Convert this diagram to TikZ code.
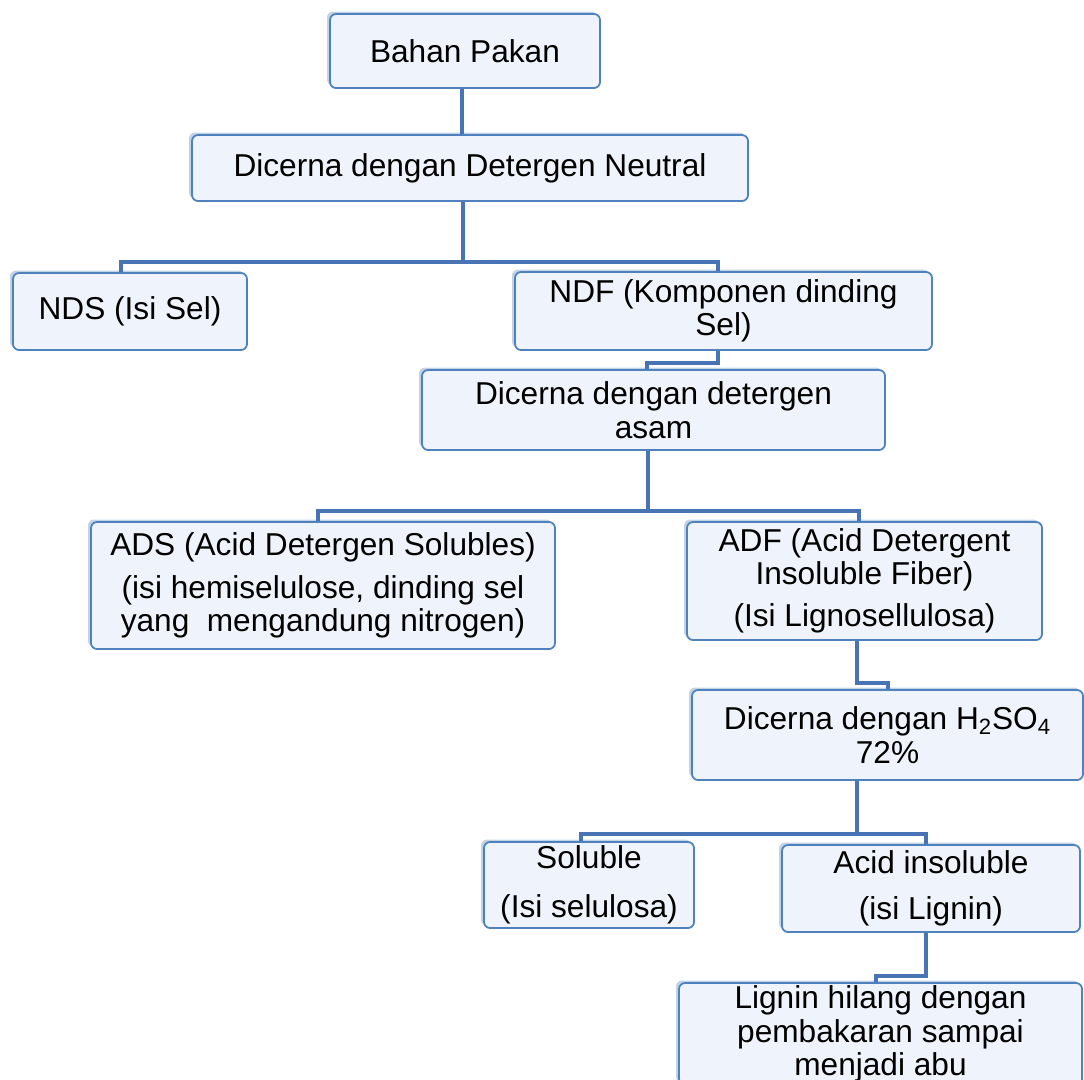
\documentclass[tikz,border=0pt]{standalone}
\usepackage{fontspec}
\setmainfont{Liberation Sans}
\usetikzlibrary{shadows}

\definecolor{biruGaris}{RGB}{72,116,182}
\definecolor{biruTepi}{RGB}{79,129,189}
\definecolor{isiKotak}{RGB}{239,243,251}

\begin{document}
\begin{tikzpicture}[
		kotak/.style={draw=biruTepi, line width=1pt, rounded corners=0.12cm, fill=isiKotak, align=center, inner sep=0pt,
			font=\fontsize{18}{19}\selectfont,
			drop shadow={shadow xshift=-0.06cm, shadow yshift=0.05cm, fill=biruTepi, opacity=0.35}},
		garis/.style={draw=biruGaris, line width=0.08cm}]
				\useasboundingbox (0,0) rectangle (21.68,-21.58);
				
				% Kotak bagan
				\node[kotak, minimum width=5.40cm, minimum height=1.48cm] (bahan) at (9.30,-1.02) {Bahan Pakan};
				\node[kotak, minimum width=11.12cm, minimum height=1.32cm] (netral) at (9.40,-3.36) {Dicerna dengan Detergen Neutral};
				\node[kotak, minimum width=4.68cm, minimum height=1.54cm] (nds) at (2.60,-6.23) {NDS (Isi Sel)};
				\node[kotak, minimum width=8.34cm, minimum height=1.56cm] (ndf) at (14.47,-6.22) {NDF (Komponen dinding\\Sel)};
				\node[kotak, minimum width=9.26cm, minimum height=1.60cm] (asam) at (13.07,-8.20) {Dicerna dengan detergen\\asam};
				\node[kotak, minimum width=9.28cm, minimum height=2.54cm] (ads) at (6.46,-11.71) {ADS (Acid Detergen Solubles)\\[5pt](isi hemiselulose, dinding sel\\yang~ mengandung nitrogen)};
				\node[kotak, minimum width=7.10cm, minimum height=2.36cm] (adf) at (17.29,-11.62) {ADF (Acid Detergent\\Insoluble Fiber)\\[5pt](Isi Lignosellulosa)};
				\node[kotak, minimum width=7.82cm, minimum height=1.80cm] (hso) at (17.75,-14.70) {Dicerna dengan H\textsubscript{2}SO\textsubscript{4}\\72\%};
				\node[kotak, minimum width=4.20cm, minimum height=1.72cm] (sol) at (11.78,-17.70) {Soluble\\[9pt](Isi selulosa)};
				\node[kotak, minimum width=5.96cm, minimum height=1.74cm] (acid) at (18.62,-17.77) {Acid insoluble\\[7pt](isi Lignin)};
				\node[kotak, minimum width=8.06cm, minimum height=2.04cm] (lignin) at (17.61,-20.68) {Lignin hilang dengan\\pembakaran sampai\\menjadi abu};
				
				% Titik cabang
				\coordinate (cab1) at (9.26,-5.24);
				\coordinate (cab2) at (12.96,-10.22);
				\coordinate (cab3) at (17.14,-16.68);
				
				% Garis penghubung
				\draw[garis] ([xshift=-0.06cm]bahan.south) -- ([xshift=-0.06cm]bahan.south |- netral.north);
				\draw[garis] (netral.south -| cab1) -- (cab1) -| ([xshift=-0.18cm]nds.north);
				\draw[garis] (cab1) -| ([xshift=-0.11cm]ndf.north);
				\draw[garis] ([xshift=-0.11cm]ndf.south) -- ++(0,-0.24) -| ([xshift=-0.13cm]asam.north);
				\draw[garis] (asam.south -| cab2) -- (cab2) -| ([xshift=-0.10cm]ads.north);
				\draw[garis] (cab2) -| ([xshift=-0.11cm]adf.north);
				\draw[garis] ([xshift=-0.15cm]adf.south) -- ++(0,-0.84) -| (hso.north);
				\draw[garis] (hso.south -| cab3) -- (cab3) -| ([xshift=-0.16cm]sol.north);
				\draw[garis] (cab3) -| ([xshift=-0.10cm]acid.north);
				\draw[garis] ([xshift=-0.10cm]acid.south) -- ++(0,-0.86) -| ([xshift=-0.09cm]lignin.north);
			\end{tikzpicture}
\end{document}
